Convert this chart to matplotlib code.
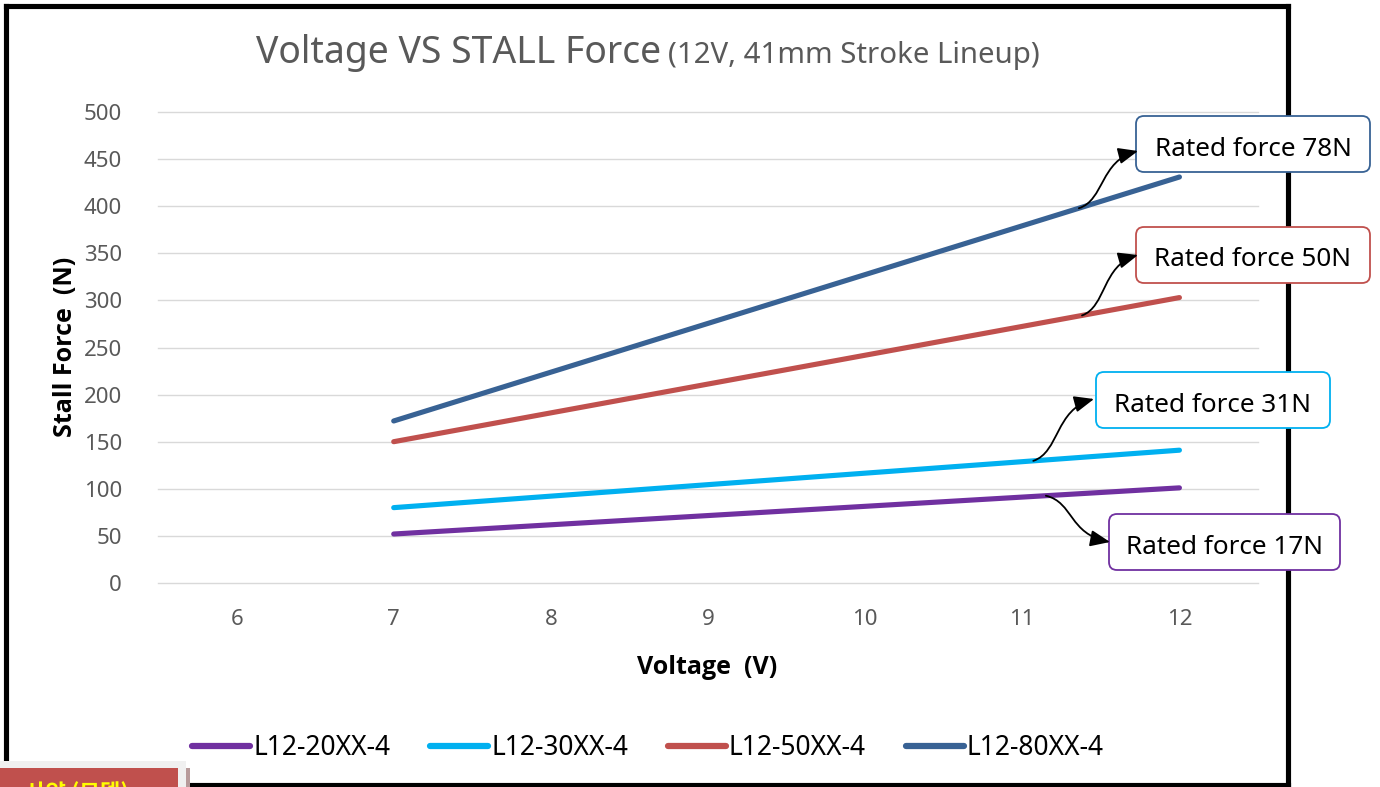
import matplotlib
matplotlib.use("Agg")
import matplotlib.pyplot as plt
import numpy as np
from matplotlib.patches import FancyBboxPatch, FancyArrowPatch, Rectangle
from matplotlib.path import Path
from matplotlib.transforms import Affine2D
from matplotlib.lines import Line2D

# ---------------- data ----------------
voltage = [7, 12]
f_20xx = [52, 101]
f_30xx = [80, 141]
f_50xx = [150, 303]
f_80xx = [172, 431]
series_names = ["L12-20XX-4", "L12-30XX-4", "L12-50XX-4", "L12-80XX-4"]
x_ticks = [6, 7, 8, 9, 10, 11, 12]
y_ticks = [0, 50, 100, 150, 200, 250, 300, 350, 400, 450, 500]
rated_labels = ["Rated force 17N", "Rated force 31N", "Rated force 50N", "Rated force 78N"]

colors = ["#7030A0", "#00B0F0", "#C0504D", "#386294"]
series = [f_20xx, f_30xx, f_50xx, f_80xx]

W, H = 1380, 787
plt.rcParams['font.family'] = ['Noto Sans', 'Noto Sans CJK KR', 'DejaVu Sans']
fig = plt.figure(figsize=(W / 100, H / 100), dpi=100)
fig.patch.set_facecolor("white")

# pixel (top-origin) transform
px = Affine2D().scale(1 / W, -1 / H).translate(0, 1) + fig.transFigure

ax = fig.add_axes([158 / W, 1 - 583 / H, 1100 / W, 471 / H])
ax.set_xlim(5.5, 12.5)
ax.set_ylim(0, 500)
for s in ax.spines.values():
    s.set_visible(False)
ax.set_xticks(x_ticks)
ax.set_yticks(y_ticks)
ax.tick_params(length=0, labelsize=16, labelcolor="#595959")
ax.tick_params(axis='y', pad=26)
ax.tick_params(axis='x', pad=19)
ax.grid(axis='y', color="#D9D9D9", lw=1.0)
for gl in ax.get_ygridlines():
    gl.set_clip_on(False)
ax.set_axisbelow(True)

handles = []
for name, vals, c in zip(series_names, series, colors):
    ln, = ax.plot(voltage, vals, color=c, lw=3.7, solid_capstyle='round', label=name)
    handles.append(ln)

leg = ax.legend(handles=handles, loc='center', bbox_to_anchor=(648 / W, 1 - 748 / H),
                bbox_transform=fig.transFigure, ncol=4, frameon=False, fontsize=19,
                handlelength=2.2, handletextpad=0.12, columnspacing=1.5)
for h in leg.get_lines():
    h.set_linewidth(4.5)
    h.set_solid_capstyle('round')

# titles / labels
fig.text(256 / W, 1 - 63 / H, "Voltage VS STALL Force", fontsize=26.9, color="#595959",
         ha='left', va='baseline')
fig.text(668 / W, 1 - 63 / H, "(12V, 41mm Stroke Lineup)", fontsize=21.2, color="#595959",
         ha='left', va='baseline')
bold_fam = ['Open Sans', 'Noto Sans CJK KR', 'DejaVu Sans']
fig.text(65 / W, 1 - 347 / H, "Stall Force  (N)", fontsize=18, fontweight='bold',
         family=bold_fam, rotation=90, ha='center', va='center', color='black')
fig.text(707 / W, 1 - 667 / H, "Voltage  (V)", fontsize=18, fontweight='bold',
         family=bold_fam, ha='center', va='center', color='black')

# border
bk = dict(color='black', lw=3.7, transform=px, solid_capstyle='projecting')
fig.add_artist(Line2D([5.5, 1287.5], [5.5, 5.5], **bk))
fig.add_artist(Line2D([5.5, 5.5], [5.5, 761], **bk))
fig.add_artist(Line2D([1287.5, 1287.5], [5.5, 785], **bk))
fig.add_artist(Line2D([187, 1287.5], [785, 785], **bk))

# annotation boxes (x0, y0, x1, y1 in px) and arrows
boxes = [(1109, 514, 1340, 570), (1096, 372, 1330, 428), (1136, 227, 1370, 283), (1136, 116, 1370, 172)]
arrow_v = [11.15, 11.07, 11.38, 11.36]
tips = [(1110, 542), (1094, 399), (1138, 255), (1138, 151)]

def to_px(v, f):
    xd, yd = ax.transData.transform((v, f))
    return xd / fig.dpi * 100, H - yd / fig.dpi * 100

for (x0, y0, x1, y1), lab, c, v, vals, tip in zip(boxes, rated_labels, colors, arrow_v, series, tips):
    bp = FancyBboxPatch((x0, y0), x1 - x0, y1 - y0,
                        boxstyle="round,pad=0,rounding_size=8",
                        facecolor='white', edgecolor=c, lw=1.3, transform=px, zorder=5)
    fig.add_artist(bp)
    fig.text((x0 + x1) / 2 / W, 1 - ((y0 + y1) / 2 + 5) / H, lab, fontsize=18.8,
             ha='center', va='center', color='black', zorder=6)
    sx, sy = to_px(v, float(np.interp(v, voltage, vals)))
    tx, ty = tip
    dx = tx - sx
    verts = [(sx, sy), (sx + 0.43 * dx, sy - 0.14 * (sy - ty)),
             (sx + 0.36 * dx, ty + 0.17 * (sy - ty)), (tx, ty)]
    path = Path(verts, [Path.MOVETO, Path.CURVE4, Path.CURVE4, Path.CURVE4])
    arr = FancyArrowPatch(path=path, arrowstyle='-|>,head_length=12,head_width=5',
                          mutation_scale=1, color='black', lw=1.3, transform=px, zorder=6)
    fig.add_artist(arr)

# bottom-left overlapping element (cut off at the lower edge, as in the source)
fig.add_artist(Rectangle((0, 761), 186, 26, facecolor="#F0F0F0", edgecolor='none', transform=px, zorder=7))
fig.add_artist(Rectangle((186, 768), 4, 19, facecolor="#B79A9A", edgecolor='none', transform=px, zorder=7))
fig.add_artist(Rectangle((0, 768), 178, 19, facecolor="#C0504D", edgecolor='none', transform=px, zorder=8))
fig.text(25 / W, 1 - 782 / H, "사양 (모델)", fontsize=16, fontweight='bold', color="#FFFF00",
         family=['Noto Sans CJK KR', 'DejaVu Sans'], ha='left', va='top', zorder=9)

fig.savefig("out.png", dpi=100, facecolor='white')
